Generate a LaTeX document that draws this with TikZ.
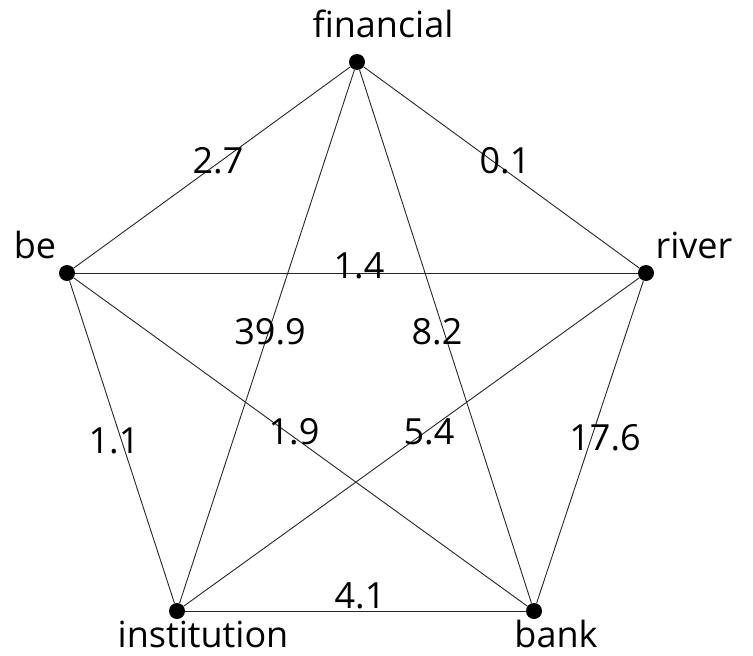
\documentclass[tikz,border=0pt]{standalone}
\usepackage{fontspec}
\setmainfont{Open Sans}
\begin{document}
\begin{tikzpicture}[x=1pt,y=-1pt,
  vert/.style={circle,fill=black,inner sep=0pt,minimum size=16pt},
  edge/.style={draw=black!85,line width=0.9pt},
  wlabel/.style={font=\fontsize{36}{40}\selectfont,inner sep=0pt},
  nlabel/.style={font=\fontsize{36}{40}\selectfont,inner sep=0pt}]
\useasboundingbox (0,0) rectangle (753,656);
\node[vert] (f) at (357,62) {};
\node[vert] (be) at (67,273) {};
\node[vert] (r) at (646,273) {};
\node[vert] (i) at (177,611) {};
\node[vert] (b) at (534,611) {};
\draw[edge] (f) -- (be);
\draw[edge] (f) -- (r);
\draw[edge] (f) -- (i);
\draw[edge] (f) -- (b);
\draw[edge] (be) -- (r);
\draw[edge] (be) -- (i);
\draw[edge] (be) -- (b);
\draw[edge] (r) -- (i);
\draw[edge] (r) -- (b);
\draw[edge] (i) -- (b);
\node[wlabel] (tf) at (383,24) {financial};
\node[wlabel] (tbe) at (35,245) {be};
\node[wlabel] (tr) at (694,245) {river};
\node[wlabel] (ti) at (203,634) {institution};
\node[wlabel] (tb) at (556,634) {bank};
\node[nlabel] (l1) at (218,161) {2.7};
\node[nlabel] (l2) at (505,161) {0.1};
\node[nlabel] (l3) at (359,266) {1.4};
\node[nlabel] (l4) at (270,332) {39.9};
\node[nlabel] (l5) at (437,332) {8.2};
\node[nlabel] (l6) at (114,441) {1.1};
\node[nlabel] (l7) at (294,432) {1.9};
\node[nlabel] (l8) at (429,432) {5.4};
\node[nlabel] (l9) at (605,438) {17.6};
\node[nlabel] (l10) at (360,596) {4.1};
\end{tikzpicture}
\end{document}
